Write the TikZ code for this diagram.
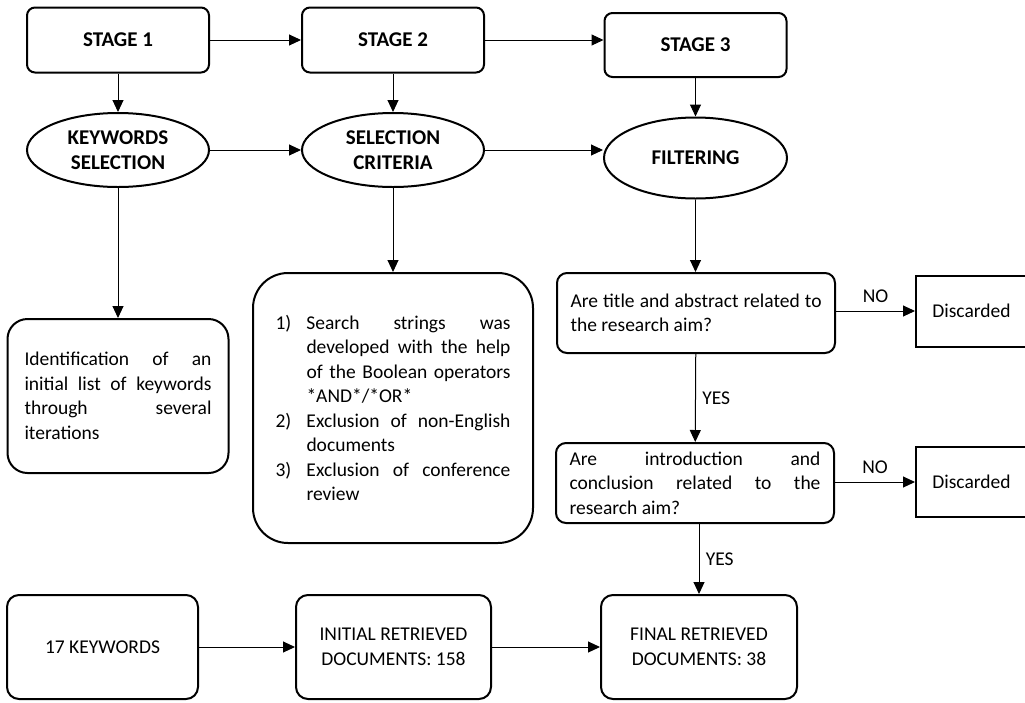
\documentclass[tikz,border=0pt]{standalone}
\usepackage{fontspec}
\setmainfont{Carlito}
\usetikzlibrary{shapes.geometric,arrows.meta}
\def\bodyfont{\fontsize{19.5}{24.5}\selectfont}
\def\headfont{\fontsize{21}{25}\selectfont\bfseries}
\tolerance=10000
\hbadness=10000

\begin{document}
\begin{tikzpicture}[x=1pt,y=-1pt,
  stagebox/.style={draw,line width=2pt,rounded corners=8pt,minimum width=182pt,minimum height=65pt,font=\headfont},
  phase/.style={draw,ellipse,line width=2pt,inner sep=0pt,minimum width=182pt,minimum height=74pt,font=\headfont,align=center},
  textbox/.style={draw,line width=2pt,font=\bodyfont,align=justify},
  countbox/.style={draw,line width=2pt,rounded corners=12pt,minimum height=104pt,font=\bodyfont,align=center},
  arr/.style={line width=1pt,-{Triangle[length=12pt,width=11pt]}},
  lbl/.style={font=\bodyfont}]
\clip (0,0) rectangle (1025,702);

% stages
\node[stagebox] (s1) at (118,40) {STAGE 1};
\node[stagebox] (s2) at (393,40) {STAGE 2};
\node[stagebox,minimum height=64pt] (s3) at (695.5,45) {STAGE 3};

\node[phase] (e1) at (118,150) {KEYWORDS\\SELECTION};
\node[phase] (e2) at (393,150) {SELECTION\\CRITERIA};
\node[phase,minimum height=81pt,minimum width=183pt] (e3) at (695.5,158) {FILTERING};

% details
\node[textbox,rounded corners=20pt,minimum width=221pt,minimum height=154pt,text width=187pt] (id) at (118,396)
  {Identification of an\linebreak initial list of keywords\linebreak through several\linebreak iterations};
\node[textbox,rounded corners=35pt,minimum width=280pt,minimum height=270pt,text width=235pt] (crit) at (393,408)
  {\leftskip=31pt
   \noindent\llap{\makebox[31pt][l]{1)}}Search strings was\linebreak developed with the help\linebreak of the Boolean operators\linebreak *AND*/*OR*\par
   \noindent\llap{\makebox[31pt][l]{2)}}Exclusion of non-English\linebreak documents\par
   \noindent\llap{\makebox[31pt][l]{3)}}Exclusion of conference\linebreak review\par};

\node[textbox,rounded corners=10pt,minimum width=278pt,minimum height=80pt,text width=251pt] (q1) at (696,313)
  {Are title and abstract related to\linebreak the research aim?};
\node[textbox,rounded corners=10pt,minimum width=278pt,minimum height=80pt,text width=251pt] (q2) at (695,483)
  {Are introduction and\linebreak conclusion related to the\linebreak research aim?};
\node[textbox,minimum width=111pt,minimum height=71pt] (d1) at (971.5,311) {Discarded};
\node[textbox,minimum width=111pt,minimum height=70pt] (d2) at (971.5,482) {Discarded};

% counts
\node[countbox,minimum width=191pt] (k) at (102.5,647) {17 KEYWORDS};
\node[countbox,minimum width=195pt] (i) at (393.5,647) {INITIAL RETRIEVED\\DOCUMENTS: 158};
\node[countbox,minimum width=196pt] (f) at (699,647) {FINAL RETRIEVED\\DOCUMENTS: 38};

\draw[arr] (s1) -- (s2);
\draw[arr] (s2.east) -- (s2.east -| s3.west);
\draw[arr] (e1) -- (e2);
\draw[arr] (e2.east) -- (e2.east -| e3.west);
\foreach \a/\b in {s1/e1, s2/e2, s3/e3, e1/id, e2/crit}{
	\draw[arr] (\a) -- (\b);
}
\draw[arr] (e3.south) -- (e3.south |- q1.north);
\draw[arr] (q1) -- node[lbl,right=3pt] {YES} (q2);
\draw[arr] (q2.south -| f.north) -- node[lbl,right=3pt] {YES} (f.north);
\draw[arr] (q1.east |- d1.west) -- node[lbl,above=5pt] {NO} (d1.west);
\draw[arr] (q2.east |- d2.west) -- node[lbl,above=5pt] {NO} (d2.west);
\draw[arr] (k) -- (i);
\draw[arr] (i) -- (f);
\end{tikzpicture}
\end{document}
